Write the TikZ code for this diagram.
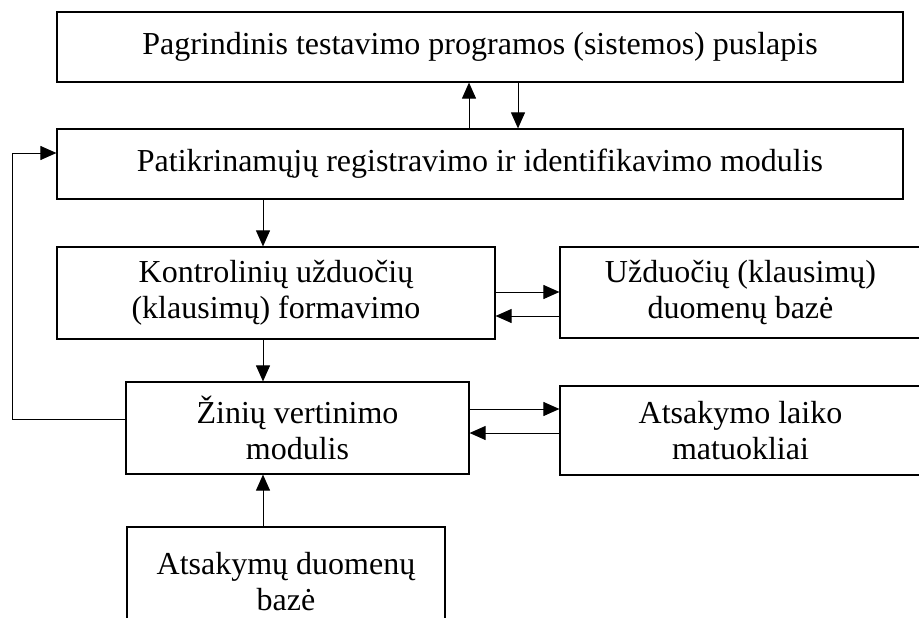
\documentclass[tikz,border=0pt]{standalone}
\usepackage{fontspec}
\setmainfont{Liberation Serif}
\usetikzlibrary{arrows.meta}
\tikzset{
  box/.style={draw, line width=1.2pt, inner sep=0pt, align=center, anchor=center,
    font=\fontsize{32}{36}\selectfont},
  arr/.style={line width=1pt, -{Triangle[length=16pt,width=14pt]}}
}
\begin{document}
\begin{tikzpicture}[x=1pt,y=-1pt]
\useasboundingbox (0,0) rectangle (919,618);
\clip (0,0) rectangle (919,618);
\node[box, minimum width=846pt, minimum height=70pt] (b1) at (480,47) {Pagrindinis testavimo programos (sistemos) puslapis};
\node[box, minimum width=846pt, minimum height=70pt] (b2) at (480,164) {Patikrinamųjų registravimo ir identifikavimo modulis};
\node[box, minimum width=438pt, minimum height=92pt] (b3) at (276,293) {Kontrolinių užduočių\\(klausimų) formavimo};
\node[box, minimum width=361pt, minimum height=91pt] (b4) at (740.5,292.5) {Užduočių (klausimų)\\duomenų bazė};
\node[box, minimum width=343pt, minimum height=92pt] (b5) at (297.5,428) {Žinių vertinimo\\modulis};
\node[box, minimum width=361pt, minimum height=89pt] (b6) at (740.5,430.5) {Atsakymo laiko\\matuokliai};
\node[box, minimum width=318pt, minimum height=109pt] (b7) at (286,581.5) {Atsakymų duomenų\\bazė};
\coordinate (xup) at (469,0);
\coordinate (xdown) at (518,0);
\coordinate (xmid) at (263,0);
\coordinate (y34a) at (0,292);
\coordinate (y34b) at (0,316);
\coordinate (y56a) at (0,409);
\coordinate (y56b) at (0,433);
\coordinate (fbx) at (12,0);
\coordinate (fbin) at (0,153);
\coordinate (fbout) at (0,419);
\draw[arr] (b2.north -| xup) -- (b1.south -| xup);
\draw[arr] (b1.south -| xdown) -- (b2.north -| xdown);
\draw[arr] (b2.south -| xmid) -- (b3.north -| xmid);
\draw[arr] (b3.east |- y34a) -- (b4.west |- y34a);
\draw[arr] (b4.west |- y34b) -- (b3.east |- y34b);
\draw[arr] (b3.south -| xmid) -- (b5.north -| xmid);
\draw[arr] (b5.east |- y56a) -- (b6.west |- y56a);
\draw[arr] (b6.west |- y56b) -- (b5.east |- y56b);
\draw[arr] (b7.north -| xmid) -- (b5.south -| xmid);
\draw[arr] (b5.west |- fbout) -- (fbx |- fbout) -- (fbx |- fbin) -- (b2.west |- fbin);
\end{tikzpicture}
\end{document}
